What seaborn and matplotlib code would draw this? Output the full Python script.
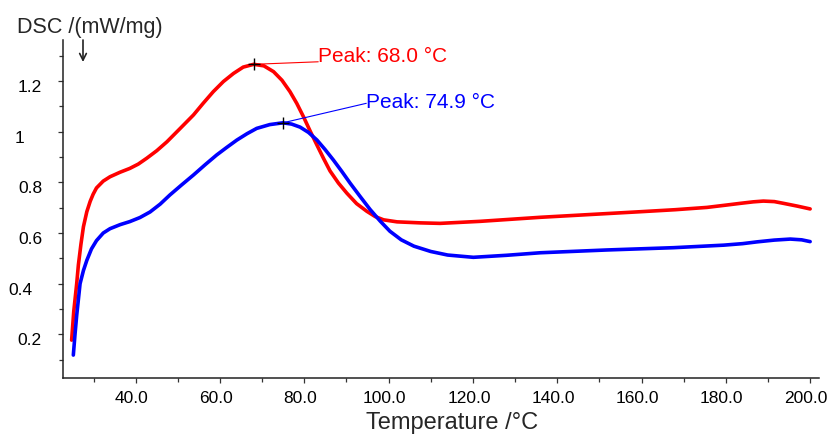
import matplotlib
matplotlib.use("Agg")
import matplotlib.pyplot as plt
import matplotlib.transforms as mtrans
from matplotlib.ticker import MultipleLocator
import pandas as pd
import seaborn as sns

# DSC curves (temperature in °C, heat flow in mW/mg)
red_temp = [24.8, 25.3, 26.0, 26.4, 27.0, 27.6, 28.4, 29.2, 29.9, 30.7, 32.3, 33.9, 36.3,
            38.6, 40.6, 42.6, 45.0, 47.4, 50.5, 53.7, 56.0, 58.4, 60.8, 63.2, 65.5, 68.0,
            70.4, 72.7, 74.7, 76.6, 78.2, 79.8, 81.4, 83.0, 84.6, 86.1, 88.1, 90.1,
            92.4, 94.8, 96.8, 98.8, 102.0, 107.5, 112.2, 121.7, 136.0, 150.0, 159.7,
            168.0, 175.5, 180.0, 183.4, 186.5, 188.9, 191.5, 193.7, 197.0, 200.0]
red_dsc = [0.177, 0.290, 0.400, 0.474, 0.555, 0.625, 0.684, 0.725, 0.753, 0.778, 0.805, 0.822, 0.840,
           0.855, 0.872, 0.895, 0.925, 0.960, 1.012, 1.066, 1.112, 1.158, 1.198, 1.230, 1.255, 1.266,
           1.260, 1.237, 1.203, 1.158, 1.112, 1.059, 1.002, 0.947, 0.893, 0.845, 0.797, 0.757,
           0.716, 0.686, 0.665, 0.652, 0.644, 0.640, 0.638, 0.646, 0.662, 0.675, 0.684,
           0.692, 0.701, 0.710, 0.717, 0.723, 0.726, 0.724, 0.717, 0.706, 0.695]

blue_temp = [25.2, 25.6, 26.0, 26.8, 27.6, 28.4, 29.5, 30.7, 32.3, 33.9, 36.3, 38.6, 41.0,
             43.4, 45.8, 48.1, 50.9, 53.7, 56.5, 59.2, 61.6, 64.0, 66.4, 68.7, 71.8, 74.9,
             77.0, 79.0, 81.0, 83.0, 84.9, 86.9, 88.9, 90.9, 93.2, 95.6, 98.0, 100.3,
             103.0, 106.0, 110.0, 114.0, 120.1, 128.0, 136.0, 151.8, 167.6, 179.5,
             184.0, 187.4, 191.5, 195.3, 198.0, 200.0]
blue_dsc = [0.118, 0.200, 0.275, 0.400, 0.452, 0.492, 0.537, 0.570, 0.600, 0.617, 0.633, 0.645, 0.661,
            0.683, 0.714, 0.750, 0.790, 0.829, 0.870, 0.908, 0.938, 0.967, 0.992, 1.013, 1.028, 1.035,
            1.030, 1.018, 0.997, 0.967, 0.930, 0.888, 0.843, 0.796, 0.745, 0.693, 0.647, 0.607,
            0.573, 0.548, 0.527, 0.513, 0.504, 0.512, 0.522, 0.533, 0.542, 0.552,
            0.558, 0.565, 0.572, 0.576, 0.573, 0.566]

peak_red_temp, peak_red_dsc = 68.0, 1.266
peak_blue_temp, peak_blue_dsc = 74.9, 1.035

x_ticks = [40, 60, 80, 100, 120, 140, 160, 180, 200]
x_tick_labels = ["40.0", "60.0", "80.0", "100.0", "120.0", "140.0", "160.0", "180.0", "200.0"]
y_ticks = [0.2, 0.4, 0.6, 0.8, 1.0, 1.2]
y_tick_labels = ["0.2", "0.4", "0.6", "0.8", "1", "1.2"]
# extra horizontal shift (px) of each y tick label
y_label_dx = [-1, -10, 0, 0, -19, -1]

sns.set_style("ticks")
plt.rcParams["font.family"] = ["Liberation Sans", "DejaVu Sans"]

W, H = 831, 434
fig = plt.figure(figsize=(W / 100, H / 100), dpi=100)
ax = fig.add_axes([63 / W, 56 / H, 756 / W, 338 / H])

df = pd.concat([
    pd.DataFrame({"T": red_temp, "DSC": red_dsc, "run": "red"}),
    pd.DataFrame({"T": blue_temp, "DSC": blue_dsc, "run": "blue"}),
], ignore_index=True)
sns.lineplot(data=df, x="T", y="DSC", hue="run",
             palette={"red": "#ff0000", "blue": "#0000ff"},
             sort=False, estimator=None, lw=2.6, legend=False, ax=ax)
for line in ax.get_lines():
    line.set_solid_joinstyle("round")
    line.set_solid_capstyle("round")

# peak markers with leader lines and labels
ax.plot([peak_red_temp, 83.3], [peak_red_dsc, 1.276], color="#ff0000", lw=0.8)
ax.plot([peak_blue_temp, 94.7], [peak_blue_dsc, 1.112], color="#0000ff", lw=0.8)
ax.plot([peak_red_temp, peak_blue_temp], [peak_red_dsc, peak_blue_dsc],
        ls="none", marker="+", color="black", ms=8, mew=1.0)
ax.text(83.3, 1.276, f"Peak: {peak_red_temp:.1f} °C", color="#ff0000",
        fontsize=15, ha="left", va="baseline")
ax.text(94.7, 1.092, f"Peak: {peak_blue_temp:.1f} °C", color="#0000ff",
        fontsize=15, ha="left", va="baseline")

ax.set_xlim(22.75, 202.1)
ax.set_ylim(0.0275, 1.362)

ax.set_xticks(x_ticks)
ax.set_xticklabels(x_tick_labels)
ax.set_yticks(y_ticks)
ax.set_yticklabels(y_tick_labels)
ax.xaxis.set_minor_locator(MultipleLocator(10))
ax.yaxis.set_minor_locator(MultipleLocator(0.1))

ax.tick_params(axis="both", which="major", direction="out", length=3.6, width=0.9,
               color="#333333", labelsize=12.5, labelcolor="black")
ax.tick_params(axis="both", which="minor", direction="out", length=2.6, width=0.9,
               color="#333333")
ax.tick_params(axis="x", which="major", pad=5.8)
ax.tick_params(axis="y", which="major", pad=10.8)

for lab in ax.get_xticklabels():
    lab.set_transform(lab.get_transform() + mtrans.ScaledTranslation(-4 / 100, 0, fig.dpi_scale_trans))
for lab, dx in zip(ax.get_yticklabels(), y_label_dx):
    lab.set_transform(lab.get_transform() + mtrans.ScaledTranslation(dx / 100, -5 / 100, fig.dpi_scale_trans))

sns.despine(ax=ax)
for side in ("left", "bottom"):
    ax.spines[side].set_color("#222222")
    ax.spines[side].set_linewidth(1.1)

ax.set_ylabel("")
ax.set_xlabel("Temperature /°C", fontsize=17)
ax.xaxis.set_label_coords(0.515, -0.101)

fig.text(17 / W, 1 - 33 / H, "DSC /(mW/mg)", fontsize=15.5, ha="left", va="baseline")
# downward arrow marking the endothermic direction
ax.annotate("", xy=(83, H - 62), xytext=(83, H - 40),
            xycoords="figure pixels", textcoords="figure pixels",
            arrowprops=dict(arrowstyle="->", lw=1.2, color="#222222",
                            mutation_scale=12, shrinkA=0, shrinkB=0),
            annotation_clip=False)

fig.savefig("out.png", dpi=100)
